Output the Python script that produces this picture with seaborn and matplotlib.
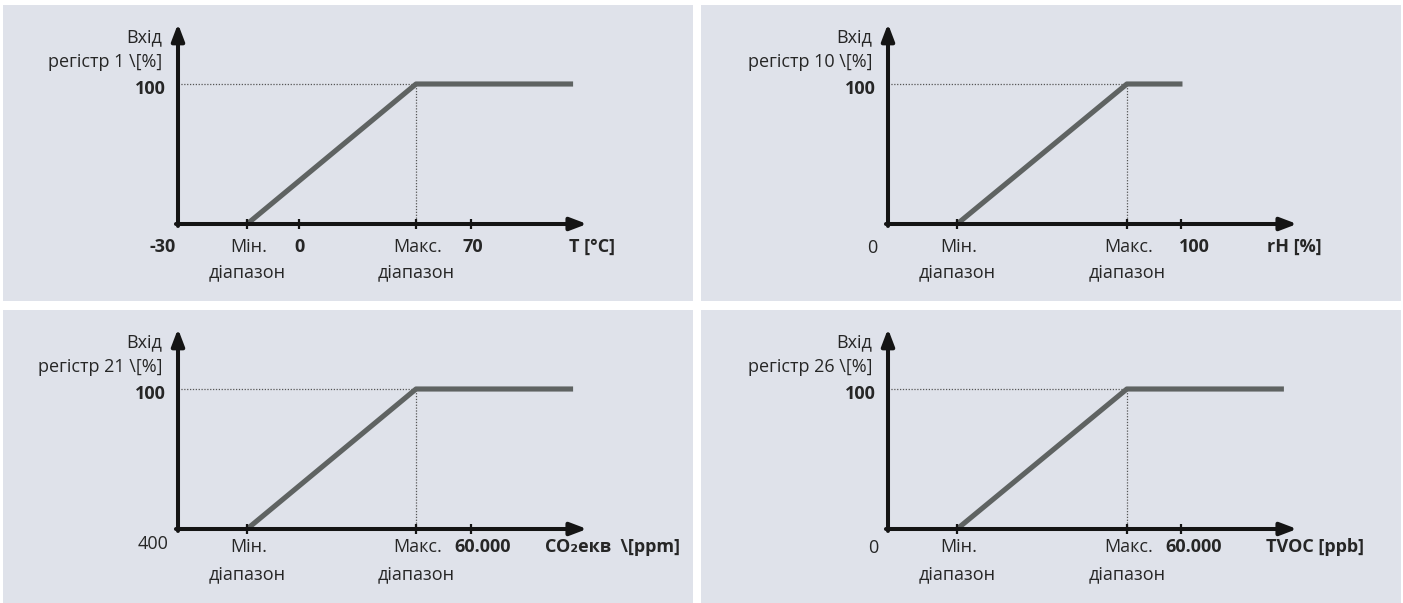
import numpy as np
import pandas as pd
import matplotlib
matplotlib.use("Agg")
import matplotlib.pyplot as plt
import seaborn as sns

sns.set_style("white")
plt.rcParams["font.family"] = ["Open Sans", "DejaVu Sans"]

# =========================
# DATA (schematic units: axis origin = 0, arrow tip = 100, full scale = 100 %)
# =========================

curve_y = [0, 100, 100]

t_curve_x = [16.9, 58.2, 96.6]
rh_curve_x = [16.9, 58.4, 72.0]
co2_curve_x = [16.9, 58.2, 96.6]
tvoc_curve_x = [16.9, 58.4, 96.8]

t_ticks = [16.9, 29.6, 58.2, 71.6]
rh_ticks = [16.9, 58.4, 71.6]
co2_ticks = [16.9, 58.2, 71.6]
tvoc_ticks = [16.9, 58.4, 71.6]

t_values = ["-30", "0", "70"]
t_value_x = [-3.7, 29.6, 72.1]
t_value_bold = [True, True, True]

rh_values = ["0", "100"]
rh_value_x = [-3.9, 74.8]
rh_value_bold = [False, True]

co2_values = ["400", "60.000"]
co2_value_x = [-6.1, 74.6]
co2_value_bold = [False, True]

tvoc_values = ["0", "60.000"]
tvoc_value_x = [-3.7, 74.8]
tvoc_value_bold = [False, True]

units = ["T [°C]", "rH [%]", "CO\u2082екв  \\[ppm]", "TVOC [ppb]"]
unit_x = [101.2, 99.3, 106.3, 104.4]
registers = ["регістр 1 \\[%]", "регістр 10 \\[%]",
             "регістр 21 \\[%]", "регістр 26 \\[%]"]

range_labels = ["Мін.\nдіапазон", "Макс.\nдіапазон"]

# =========================
# STYLE / LAYOUT
# =========================

W, H = 1403, 603
BG = "#dfe2ea"
AX = "#141414"
LINE = "#5f6362"
TXT = "#262626"
PX_X = 4.09   # px per x unit
PX_Y = 1.40   # px per y unit

# panel rect (left, top, right, bottom) in px, origin of axes in px
panels = [
    dict(rect=(3, 5, 693, 301), origin=(178, 224), lab_dy=(-16.4, -34.3), val_dy=-16.4),
    dict(rect=(701, 5, 1401, 301), origin=(888, 224), lab_dy=(-16.4, -34.3), val_dy=-17.0),
    dict(rect=(3, 310, 693, 603), origin=(178, 529), lab_dy=(-13.0, -32.0), val_dy=-11.0),
    dict(rect=(701, 310, 1401, 603), origin=(888, 529), lab_dy=(-13.0, -32.0), val_dy=-13.6),
]

curves = [t_curve_x, rh_curve_x, co2_curve_x, tvoc_curve_x]
ticks = [t_ticks, rh_ticks, co2_ticks, tvoc_ticks]
values = [t_values, rh_values, co2_values, tvoc_values]
value_x = [t_value_x, rh_value_x, co2_value_x, tvoc_value_x]
value_bold = [t_value_bold, rh_value_bold, co2_value_bold, tvoc_value_bold]

fig = plt.figure(figsize=(W / 100, H / 100), dpi=100)
fig.patch.set_facecolor("white")

FS = 13

for i, p in enumerate(panels):
    l, t, r, b = p["rect"]
    ox, oy = p["origin"]
    ax = fig.add_axes([l / W, (H - b) / H, (r - l) / W, (b - t) / H])
    ax.set_facecolor(BG)

    df = pd.DataFrame({"x": curves[i], "y": curve_y})
    max_x = curves[i][1]

    # guide lines
    ax.plot([0, max_x], [100, 100], ls=(0, (1, 1.3)), lw=0.9, color="#555555", zorder=1)
    ax.plot([max_x, max_x], [0, 100], ls=(0, (1, 1.3)), lw=0.9, color="#555555", zorder=1)

    # characteristic
    sns.lineplot(data=df, x="x", y="y", ax=ax, color=LINE, lw=3.7, sort=False,
                 solid_capstyle="butt", zorder=3)

    # axes with arrows
    ax.annotate("", xy=(100, 0), xytext=(-0.5, 0),
                arrowprops=dict(arrowstyle="-|>,head_length=1.0,head_width=0.38",
                                color=AX, lw=2.9, mutation_scale=10,
                                shrinkA=0, shrinkB=0), zorder=4)
    ax.annotate("", xy=(0, 143), xytext=(0, -1.4),
                arrowprops=dict(arrowstyle="-|>,head_length=1.0,head_width=0.38",
                                color=AX, lw=2.9, mutation_scale=10,
                                shrinkA=0, shrinkB=0), zorder=4)
    ax.vlines(ticks[i], -3.6, 3.6, color=AX, lw=1.6, zorder=4)

    # y-axis texts
    ax.text(-3.9, 133.6, "Вхід", ha="right", va="center", fontsize=FS, color=TXT)
    ax.text(-3.9, 115.7, registers[i], ha="right", va="center", fontsize=FS, color=TXT)
    ax.text(-2.9, 96.4, "100", ha="right", va="center", fontsize=FS,
            fontweight="bold", color=TXT)

    # x-axis texts
    d1, d2 = p["lab_dy"]
    for xx, lab in zip([curves[i][0], max_x], range_labels):
        first, second = lab.split("\n")
        ax.text(xx + 0.4, d1, first, ha="center", va="center", fontsize=FS, color=TXT)
        ax.text(xx, d2, second, ha="center", va="center", fontsize=FS, color=TXT)
    for txt, xx, bold in zip(values[i], value_x[i], value_bold[i]):
        ax.text(xx, p["val_dy"] if not bold else d1, txt, ha="center", va="center",
                fontsize=FS, fontweight="bold" if bold else "normal", color=TXT)
    ax.text(unit_x[i], d1, units[i], ha="center", va="center", fontsize=FS,
            fontweight="bold", color=TXT)

    ax.set_xlim(-(ox - l) / PX_X, (r - ox) / PX_X)
    ax.set_ylim(-(b - oy) / PX_Y, (oy - t) / PX_Y)
    ax.set_xticks([])
    ax.set_yticks([])
    ax.set_xlabel("")
    ax.set_ylabel("")
    for s in ax.spines.values():
        s.set_visible(False)

fig.savefig("out.png", dpi=100, facecolor="white")
